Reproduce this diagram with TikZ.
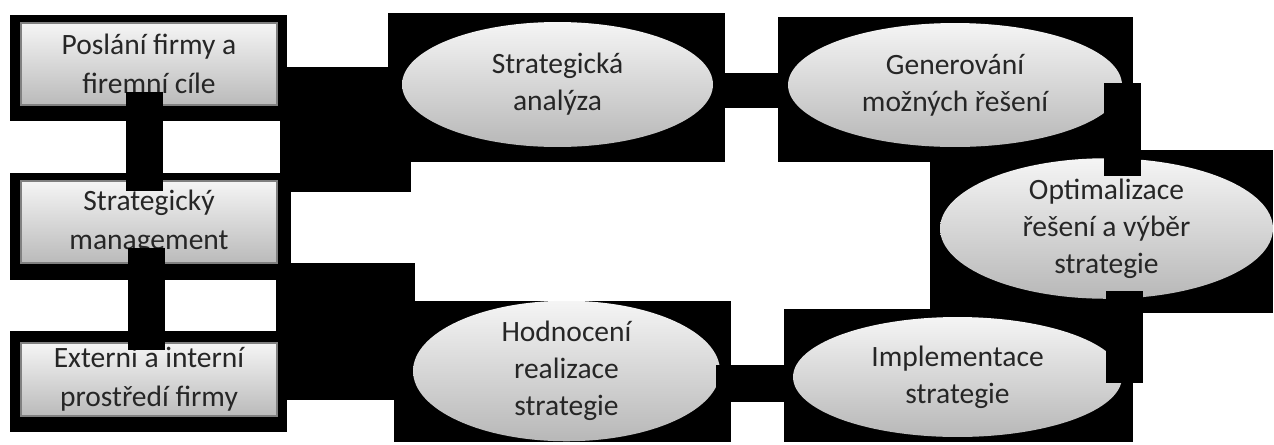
\documentclass[tikz,border=0pt]{standalone}
\usepackage{fontspec}
\setmainfont{Carlito}
\usepackage{tikz}
\usetikzlibrary{shapes.geometric, calc}

\begin{document}
\begin{tikzpicture}[x=0.02cm,y=-0.02cm,
		txt/.style={align=center,text=black!85,font=\fontsize{16.8}{21}\selectfont},
		box/.style={txt,font=\fontsize{16.8}{22}\selectfont,rectangle,draw=black!50,line width=0.6pt,top color=black!4,bottom color=black!27,minimum width=5.12cm,minimum height=1.64cm,inner sep=0pt},
		oval/.style={txt,ellipse,top color=black!4,bottom color=black!28,inner sep=0pt},
		blk/.style={fill=black},
		bar/.style={draw=black,line width=0.74cm}]
	\useasboundingbox (0,0) rectangle (1274,444);
	\fill[blk] (10,15) rectangle (287,121);
	\fill[blk] (10,173) rectangle (291,280);
	\fill[blk] (10,331) rectangle (287,432);
	\fill[blk] (280,67) rectangle (411,192);
	\fill[blk] (276,263) rectangle (415,400);
	\fill[blk] (388,13) rectangle (725,162);
	\fill[blk] (778,17) rectangle (1133,162);
	\fill[blk] (930,150) rectangle (1273,313);
	\fill[blk] (394,301) rectangle (731,442);
	\fill[blk] (784,309) rectangle (1133,442);

	\node[box] (poslani) at (149,64) {Poslání firmy a\\firemní cíle};
	\node[box] (strman) at (149,222) {Strategický\\management};
	\node[box,minimum height=1.46cm] (prostredi) at (149,379.5) {Externí a interní\\prostředí firmy};
	\node[oval,minimum width=6.22cm,minimum height=2.5cm] (analyza) at (557.5,84.5) {Strategická\\analýza};
	\node[oval,minimum width=6.68cm,minimum height=2.48cm] (generovani) at (955,85) {Generování\\možných řešení};
	\node[oval,minimum width=6.66cm,minimum height=2.74cm] (optimal) at (1106.5,228.5) {Optimalizace\\řešení a výběr\\strategie};
	\node[oval,minimum width=6.14cm,minimum height=2.64cm] (hodnoceni) at (566.5,371) {Hodnocení\\realizace\\strategie};
	\node[oval,minimum width=6.58cm,minimum height=2.4cm] (implement) at (957.5,377) {Implementace\\strategie};

	\draw[bar] ($(poslani.south)+(-4.5,-14)$) -- ($(strman.north)+(-4.5,11)$);
	\draw[bar] ($(strman.south)+(-2.5,-16)$) -- ($(prostredi.north)+(-2.5,8)$);
	\draw[bar,line width=0.7cm] ($(analyza.east)+(0,6)$) -- ($(generovani.west)+(0,5.5)$);
	\draw[bar] ($(generovani.east)+(0.5,-2)$) -- ($(generovani.east |- optimal.north)+(0.5,18)$);
	\draw[bar] ($(optimal.south -| implement.east)+(2.5,-8)$) -- ($(implement.east)+(2.5,6)$);
	\draw[bar] ($(implement.west)+(-9,6.5)$) -- ($(hodnoceni.east)+(-4,12.5)$);
\end{tikzpicture}
\end{document}
